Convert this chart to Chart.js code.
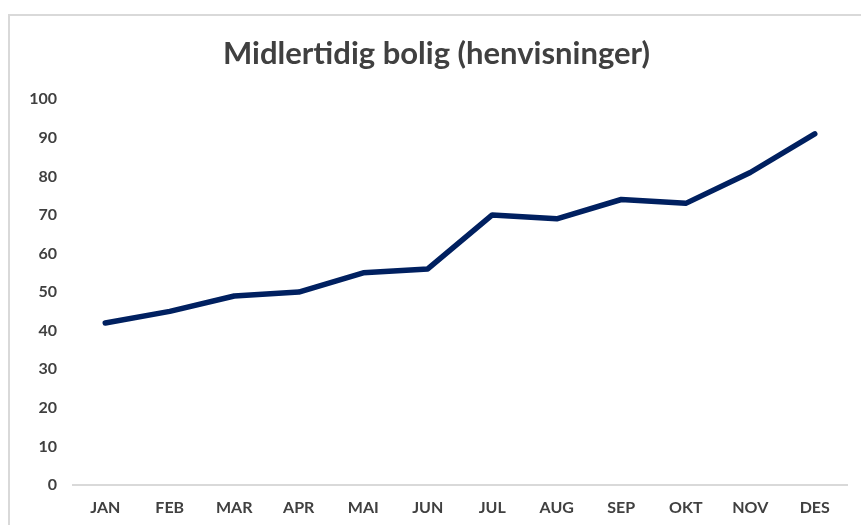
<!DOCTYPE html>
<html>
<head>
<meta charset="utf-8">
<script src="https://cdn.jsdelivr.net/npm/chart.js@4"></script>
<style>
  body { margin: 0; background: #fff; overflow: hidden; }
  #wrap { position: relative; width: 861px; height: 525px; }
  #ramme { position: absolute; left: 8px; top: 14px; width: 870px; height: 530px; border: 2px solid #d9d9d9; pointer-events: none; }
</style>
</head>
<body>
<div id="wrap">
  <canvas id="graf" width="861" height="525"></canvas>
  <div id="ramme"></div>
</div>
<script>
// data
const maaneder = ['JAN','FEB','MAR','APR','MAI','JUN','JUL','AUG','SEP','OKT','NOV','DES'];
const henvisninger = [42, 45, 49, 50, 55, 56, 70, 69, 74, 73, 81, 91];
const tittel = 'Midlertidig bolig (henvisninger)';

const tekstFarge = '#404040';
const linjeFarge = '#002060';

const ctx = document.getElementById('graf').getContext('2d');
const graf = new Chart(ctx, {
	type: 'line',
	data: {
		labels: maaneder,
		datasets: [{
			data: henvisninger,
			borderColor: linjeFarge,
			borderWidth: 5.5,
			borderCapStyle: 'round',
			borderJoinStyle: 'round',
			pointRadius: 0,
			tension: 0,
			fill: false
		}]
	},
	options: {
		responsive: false,
		animation: false,
		layout: { padding: { top: 35, left: 26, right: 14, bottom: 0 } },
		plugins: {
			legend: { display: false },
			tooltip: { enabled: false },
			title: {
				display: true,
				text: tittel,
				color: tekstFarge,
				font: { family: 'Lato', size: 31, weight: 'bold' },
				padding: { top: 0, bottom: 27 }
			}
		},
		scales: {
			x: {
				offset: true,
				grid: { display: false, drawTicks: false },
				border: { display: true, color: '#d9d9d9', width: 2 },
				ticks: {
					color: tekstFarge,
					font: { family: 'Lato', size: 16, weight: 'bold' },
					padding: 13,
					maxRotation: 0
				},
				afterFit: function(s){ s.height = 40; }
			},
			y: {
				min: 0,
				max: 100,
				grid: { display: false, drawTicks: false },
				border: { display: false },
				ticks: {
					stepSize: 10,
					color: tekstFarge,
					font: { family: 'Lato', size: 16, weight: 'bold' },
					padding: 16
				},
				afterFit: function(s){ s.width = 47; }
			}
		}
	}
});
</script>
</body>
</html>
